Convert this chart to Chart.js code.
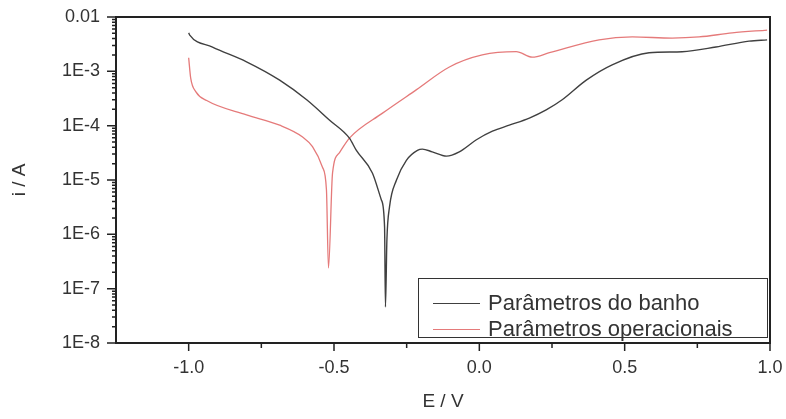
<!DOCTYPE html>
<html>
<head>
<meta charset="utf-8">
<script src="https://cdn.jsdelivr.net/npm/chart.js@4.4.1/dist/chart.umd.min.js"></script>
<style>
  body { margin: 0; background: #fff; }
  #wrap { position: relative; width: 786px; height: 419px; }
  #legendBox {
    position: absolute; left: 418px; top: 278px; width: 348px; height: 58px;
    border: 1.5px solid #333; background: #fff;
    font-family: "Liberation Sans", Arial, sans-serif; font-size: 22px; color: #333;
  }
  .lg-row { position: absolute; left: 0; height: 26px; line-height: 26px; white-space: nowrap; }
  .lg-line { position: absolute; left: 14px; width: 47px; top: 13px; height: 0; }
  .lg-text { position: absolute; left: 69px; top: 0; }
</style>
</head>
<body>
<div id="wrap">
  <canvas id="c" width="786" height="419"></canvas>
  <div id="legendBox"></div>
</div>
<script>
// Parâmetros do banho (black)
const bathE = [-1.0, -0.997, -0.918, -0.801, -0.687, -0.594, -0.515, -0.447, -0.423, -0.368, -0.337, -0.326, -0.323,
  -0.318, -0.309, -0.285, -0.251, -0.213, -0.196, -0.162, -0.113, -0.069, -0.010, 0.045, 0.103, 0.172, 0.230,
  0.285, 0.368, 0.457, 0.584, 0.698, 0.814, 0.928, 0.990];
const bathI = [5.1e-3, 4.7e-3, 2.8e-3, 1.5e-3, 6.9e-4, 3.0e-4, 1.26e-4, 5.9e-5, 3.5e-5, 1.35e-5, 4.3e-6, 1.35e-6, 4.6e-8,
  7.9e-7, 3.2e-6, 1.0e-5, 2.3e-5, 3.5e-5, 3.7e-5, 3.3e-5, 2.75e-5, 3.3e-5, 5.5e-5, 7.9e-5, 1.02e-4, 1.38e-4, 1.95e-4,
  3.0e-4, 6.9e-4, 1.32e-3, 2.2e-3, 2.3e-3, 2.8e-3, 3.6e-3, 3.8e-3];

// Parâmetros operacionais (red)
const operE = [-1.0, -0.993, -0.975, -0.938, -0.801, -0.687, -0.608, -0.574, -0.540, -0.526, -0.519, -0.505, -0.481, -0.447,
  -0.333, -0.216, -0.103, 0.010, 0.127, 0.182, 0.241, 0.412, 0.526, 0.663, 0.756, 0.870, 0.990];
const operI = [1.78e-3, 7.5e-4, 4.2e-4, 2.9e-4, 1.58e-4, 1.02e-4, 6.2e-5, 4.1e-5, 1.74e-5, 6.6e-6, 2.4e-7, 1.35e-5, 3.2e-5, 5.9e-5,
  1.7e-4, 4.6e-4, 1.2e-3, 2.0e-3, 2.3e-3, 1.82e-3, 2.2e-3, 3.8e-3, 4.3e-3, 4.1e-3, 4.3e-3, 5.1e-3, 5.75e-3];

const seriesNames = ['Parâmetros do banho', 'Parâmetros operacionais'];
const seriesColors = ['#404040', '#e57a7a'];

const xTicks = [-1.0, -0.5, 0.0, 0.5, 1.0];
const xTickLabels = ['-1.0', '-0.5', '0.0', '0.5', '1.0'];
const yTicks = [1e-8, 1e-7, 1e-6, 1e-5, 1e-4, 1e-3, 1e-2];
const yTickLabels = ['1E-8', '1E-7', '1E-6', '1E-5', '1E-4', '1E-3', '0.01'];

const FONT = '"Liberation Sans", Arial, sans-serif';
const INK = '#333';

function pts(xs, ys) { return xs.map((x, i) => ({ x, y: ys[i] })); }

// fixed axis sizes, no auto padding from label overflow
function fixBox(s, w, h) {
  if (w) s.width = w;
  if (h) s.height = h;
  s.paddingTop = 0; s.paddingBottom = 0; s.paddingLeft = 0; s.paddingRight = 0;
}

// frame + tick marks (major/minor of different length)
const framePlugin = {
  id: 'frame',
  afterDraw(chart) {
    const { ctx, chartArea: a, scales } = chart;
    const xs = scales.x, ys = scales.y;
    ctx.save();
    ctx.strokeStyle = '#222';
    ctx.lineWidth = 2;
    ctx.strokeRect(a.left, a.top, a.right - a.left, a.bottom - a.top);
    ctx.lineWidth = 1.5;
    ctx.beginPath();
    // x ticks every 0.25, major every 0.5
    for (let k = -5; k <= 4; k++) {
      const v = k * 0.25;
      const px = xs.getPixelForValue(v);
      if (px < a.left + 1) continue;
      const len = (k % 2 === 0) ? 8 : 5;
      ctx.moveTo(px, a.bottom); ctx.lineTo(px, a.bottom + len);
    }
    // y ticks: decades and 2..9 minors
    yTicks.forEach((d, i) => {
      const py = ys.getPixelForValue(d);
      ctx.moveTo(a.left, py); ctx.lineTo(a.left - 9, py);
      if (i === yTicks.length - 1) return;
      for (let m = 2; m <= 9; m++) {
        const pm = ys.getPixelForValue(d * m);
        ctx.moveTo(a.left, pm); ctx.lineTo(a.left - 4, pm);
      }
    });
    ctx.stroke();
    ctx.restore();
  }
};

new Chart(document.getElementById('c'), {
  type: 'line',
  data: {
    datasets: [
      { label: seriesNames[0], data: pts(bathE, bathI), borderColor: seriesColors[0], borderWidth: 1.4,
        pointRadius: 0, cubicInterpolationMode: 'monotone', fill: false },
      { label: seriesNames[1], data: pts(operE, operI), borderColor: seriesColors[1], borderWidth: 1.3,
        pointRadius: 0, cubicInterpolationMode: 'monotone', fill: false },
    ]
  },
  options: {
    responsive: false,
    animation: false,
    layout: { padding: { top: 17, right: 16, left: 0, bottom: 0 } },
    plugins: { legend: { display: false }, tooltip: { enabled: false } },
    scales: {
      x: {
        type: 'linear', min: -1.25, max: 1.0,
        grid: { display: false, drawTicks: false },
        border: { display: false },
        afterBuildTicks: (s) => { s.ticks = xTicks.map(v => ({ value: v })); },
        afterFit: (s) => fixBox(s, 0, 76),
        ticks: { padding: 14, color: INK, font: { family: FONT, size: 18 }, maxRotation: 0,
          callback: (v, i) => xTickLabels[i] },
        title: { display: true, text: 'E / V', color: INK, font: { family: FONT, size: 19 },
          padding: { top: 0, bottom: 6 } }
      },
      y: {
        type: 'logarithmic', min: 1e-8, max: 1e-2,
        grid: { display: false, drawTicks: false },
        border: { display: false },
        afterBuildTicks: (s) => { s.ticks = yTicks.map(v => ({ value: v })); },
        afterFit: (s) => fixBox(s, 116, 0),
        ticks: { padding: 16, color: INK, font: { family: FONT, size: 18 },
          callback: (v, i) => yTickLabels[i] },
        title: { display: true, text: 'i / A', color: INK, font: { family: FONT, size: 19 },
          padding: { top: 8, bottom: 0 } }
      }
    }
  },
  plugins: [framePlugin]
});

// legend inside plot
const lg = document.getElementById('legendBox');
lg.innerHTML = seriesNames.map((n, i) => `
  <div class="lg-row" style="top:${11 + i * 26}px">
    <div class="lg-line" style="border-top:1.5px solid ${seriesColors[i]}"></div>
    <div class="lg-text">${n}</div>
  </div>`).join('');
</script>
</body>
</html>
